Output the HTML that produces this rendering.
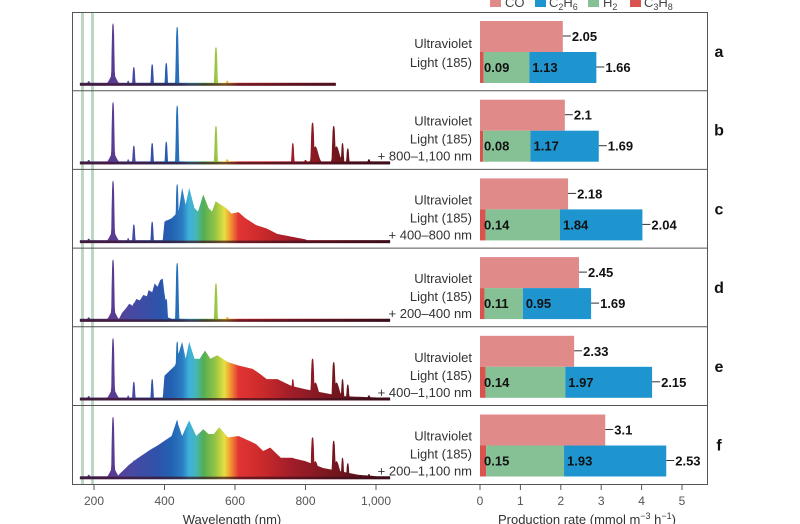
<!DOCTYPE html>
<html><head><meta charset="utf-8"><style>
html,body{margin:0;padding:0;background:#fff;}
svg{display:block;font-family:"Liberation Sans",Arial,sans-serif;}
</style></head><body>
<svg id="s" width="800" height="524" viewBox="0 0 800 524" xmlns="http://www.w3.org/2000/svg">
<defs>
<linearGradient id="sp" gradientUnits="userSpaceOnUse" x1="0" y1="0" x2="800" y2="0"></linearGradient>
</defs>
<g id="g"></g>
</svg>
<script>
const NS="http://www.w3.org/2000/svg";
const G=document.getElementById('g');
function X(w){return 94+(w-200)*0.3525;}
function B(v){return 480+v*40.4;}
function el(t,a,txt){const e=document.createElementNS(NS,t);for(const k in a)e.setAttribute(k,a[k]);if(txt!==undefined)e.textContent=txt;G.appendChild(e);return e;}
const stops=[[160,'#4a3a70'],[250,'#5b3a90'],[300,'#4a48a2'],[380,'#2f52aa'],[420,'#2262b2'],[450,'#2a7cc2'],[470,'#3fb2da'],[490,'#45b6b8'],[510,'#52ae55'],[545,'#98c444'],[570,'#e6df42'],[585,'#f2a033'],[610,'#e23434'],[680,'#c92a2a'],[760,'#a11d29'],[850,'#801821'],[950,'#5c1119'],[1045,'#3a0a10']];
const gr=document.getElementById('sp');
stops.forEach(s=>{const st=document.createElementNS(NS,'stop');st.setAttribute('offset',(X(s[0])/800).toFixed(4));st.setAttribute('stop-color',s[1]);gr.appendChild(st);});
function pk(w,c,s,h){const z=(w-c)/s;return h*Math.exp(-z*z*z*z);}
function gauss(w,c,s,h){return h*Math.exp(-((w-c)*(w-c))/(2*s*s));}
const hg=[[185,4,.05,1],[254,4.5,.9,1],[254,9,.15,0],[297,3,.06,1],[313,4,.26,1],[365,4,.3,1],[405,4,.32,1],[436,4.5,.85,1],[546,4.5,.55,1],[578,4,.06,1]];
const ir=[[764,4,.3,1],[800,4,.05,1],[820,5,.6,1],[828,8,.25,0],[880,5,.55,1],[888,8,.25,0],[905,4,.3,1],[920,4,.22,1],[980,4,.06,1]];
function line(w,g){return g[3]?pk(w,g[0],g[1],g[2]):gauss(w,g[0],g[1],g[2]);}
function interp(pts,w){if(!pts||w<pts[0][0]||w>pts[pts.length-1][0])return 0;for(let i=1;i<pts.length;i++){if(w<=pts[i][0]){const a=pts[i-1],b=pts[i];return a[1]+(b[1]-a[1])*(w-a[0])/(b[0]-a[0]);}}return 0;}
const C={
c:[[395,.02],[400,.3],[420,.35],[440,.45],[450,.8],[460,.55],[470,.8],[485,.5],[495,.45],[510,.7],[525,.5],[535,.45],[545,.6],[560,.55],[575,.5],[590,.42],[610,.44],[630,.35],[660,.25],[690,.2],[720,.12],[760,.08],[800,.04],[810,.01]],
d:[[270,.02],[280,.12],[290,.18],[300,.25],[310,.22],[320,.32],[330,.3],[340,.38],[350,.36],[355,.45],[365,.42],[372,.55],[380,.5],[388,.6],[395,.62],[400,.4],[410,.05],[420,.03]],
e:[[395,.02],[400,.35],[430,.5],[450,.85],[460,.6],[470,.85],[485,.6],[500,.6],[515,.72],[530,.6],[550,.65],[565,.6],[580,.55],[610,.5],[650,.45],[670,.38],[690,.3],[720,.3],[760,.2],[800,.15],[850,.1],[900,.05],[1000,.03],[1040,.02]],
f:[[270,.05],[300,.2],[320,.28],[340,.35],[360,.42],[380,.48],[400,.55],[420,.62],[435,.85],[450,.62],[470,.85],[490,.62],[510,.72],[525,.65],[540,.65],[555,.75],[580,.6],[610,.62],[640,.55],[660,.5],[680,.4],[700,.45],[730,.3],[760,.3],[800,.25],[850,.15],[900,.1],[950,.05],[1000,.03],[1040,.02]]
};
const panels=[
{k:'a',end:886,ir:0,lab:['Ultraviolet','Light (185)'],v:[2.05,.09,1.13,1.66]},
{k:'b',end:1040,ir:1,lab:['Ultraviolet','Light (185)','+ 800–1,100 nm'],v:[2.1,.08,1.17,1.69]},
{k:'c',end:1040,ir:0,lab:['Ultraviolet','Light (185)','+ 400–800 nm'],v:[2.18,.14,1.84,2.04]},
{k:'d',end:1040,ir:0,lab:['Ultraviolet','Light (185)','+ 200–400 nm'],v:[2.45,.11,.95,1.69]},
{k:'e',end:1040,ir:1,lab:['Ultraviolet','Light (185)','+ 400–1,100 nm'],v:[2.33,.14,1.97,2.15]},
{k:'f',end:1040,ir:1,lab:['Ultraviolet','Light (185)','+ 200–1,100 nm'],v:[3.1,.15,1.93,2.53]}];
const PH=78.7,TOP=12;
el('rect',{x:81,y:12,width:3,height:472,fill:'#bcd8c4'});
el('rect',{x:91,y:12,width:3,height:472,fill:'#bcd8c4'});
panels.forEach((p,i)=>{
 const t=TOP+i*PH, base=t+PH-6;
 let d='M'+X(160).toFixed(1)+','+base;
 for(let w=160;w<=p.end;w+=1){
  let h=.03;
  hg.forEach(g=>{h=Math.max(h,line(w,g));});
  if(p.ir)ir.forEach(g=>{h=Math.max(h,line(w,g));});
  h=Math.max(h,interp(C[p.k],w));
  d+=' L'+X(w).toFixed(1)+','+(base-h*68).toFixed(1);
 }
 d+=' L'+X(p.end).toFixed(1)+','+(base+1)+' L'+X(160).toFixed(1)+','+(base+1)+'Z';
 el('path',{d:d,fill:'url(#sp)'});
 el('rect',{x:X(160),y:base-1.5,width:X(p.end)-X(160),height:2.5,fill:'#3a1020',opacity:.7});
 const v=p.v;
 el('rect',{x:480,y:t+9,width:B(v[0])-480,height:31,fill:'#e08a8a'});
 el('line',{x1:B(v[0]),y1:t+24,x2:B(v[0])+8,y2:t+24,stroke:'#333','stroke-width':1});
 el('text',{x:B(v[0])+9,y:t+29,'font-size':13,'font-weight':'bold',fill:'#111'},String(v[0]));
 const y2=t+40;
 el('rect',{x:480,y:y2,width:v[1]*40.4,height:31,fill:'#d9534f'});
 el('rect',{x:B(v[1]),y:y2,width:v[2]*40.4,height:31,fill:'#86c095'});
 el('rect',{x:B(v[1]+v[2]),y:y2,width:v[3]*40.4,height:31,fill:'#1f95d0'});
 const e=B(v[1]+v[2]+v[3]);
 el('line',{x1:e,y1:y2+15,x2:e+8,y2:y2+15,stroke:'#333'});
 el('text',{x:e+9,y:y2+20,'font-size':13,'font-weight':'bold',fill:'#111'},v[3].toFixed(2));
 el('text',{x:484,y:y2+20,'font-size':13,'font-weight':'bold',fill:'#111'},v[1].toFixed(2));
 el('text',{x:B(v[1]+v[2])+3,y:y2+20,'font-size':13,'font-weight':'bold',fill:'#111'},v[2].toFixed(2));
 const ly=p.lab.length==2?[t+36,t+55]:[t+35,t+53,t+70];
 p.lab.forEach((s,j)=>el('text',{x:472,y:ly[j],'font-size':13,'text-anchor':'end',fill:'#333'},s));
 el('text',{x:719,y:t+45,'font-size':16,'font-weight':'bold','text-anchor':'middle',fill:'#111'},p.k);
 if(i>0)el('line',{x1:72,y1:t,x2:707,y2:t,stroke:'#555','stroke-width':1});
});
el('rect',{x:72.5,y:12.5,width:635,height:472,fill:'none',stroke:'#555','stroke-width':1});
[200,400,600,800,1000].forEach(w=>{el('line',{x1:X(w),y1:485,x2:X(w),y2:490,stroke:'#555'});el('text',{x:X(w),y:505,'font-size':12,'text-anchor':'middle',fill:'#555'},w==1000?'1,000':String(w));});
[0,1,2,3,4,5].forEach(n=>{el('line',{x1:B(n),y1:485,x2:B(n),y2:490,stroke:'#555'});el('text',{x:B(n),y:505,'font-size':12,'text-anchor':'middle',fill:'#555'},String(n));});
el('text',{x:232,y:524,'font-size':13,'text-anchor':'middle',fill:'#333'},'Wavelength (nm)');
const xl=el('text',{x:587,y:524,'font-size':13,'text-anchor':'middle',fill:'#333'});
xl.innerHTML='Production rate (mmol m<tspan dy="-5" font-size="9">−3</tspan><tspan dy="5"> h</tspan><tspan dy="-5" font-size="9">−1</tspan><tspan dy="5">)</tspan>';
[[490,'#e08a8a'],[535,'#1f95d0'],[588,'#86c095'],[630,'#d9534f']].forEach(l=>el('rect',{x:l[0],y:-2,width:11,height:9,fill:l[1]}));
el('text',{x:505,y:7,'font-size':13,fill:'#444'},'CO');
const t2=el('text',{x:549,y:7,'font-size':13,fill:'#444'});t2.innerHTML='C<tspan dy="3" font-size="9">2</tspan><tspan dy="-3">H</tspan><tspan dy="3" font-size="9">6</tspan>';
const t3=el('text',{x:603,y:7,'font-size':13,fill:'#444'});t3.innerHTML='H<tspan dy="3" font-size="9">2</tspan>';
const t4=el('text',{x:644,y:7,'font-size':13,fill:'#444'});t4.innerHTML='C<tspan dy="3" font-size="9">3</tspan><tspan dy="-3">H</tspan><tspan dy="3" font-size="9">8</tspan>';
</script>
</body></html>
